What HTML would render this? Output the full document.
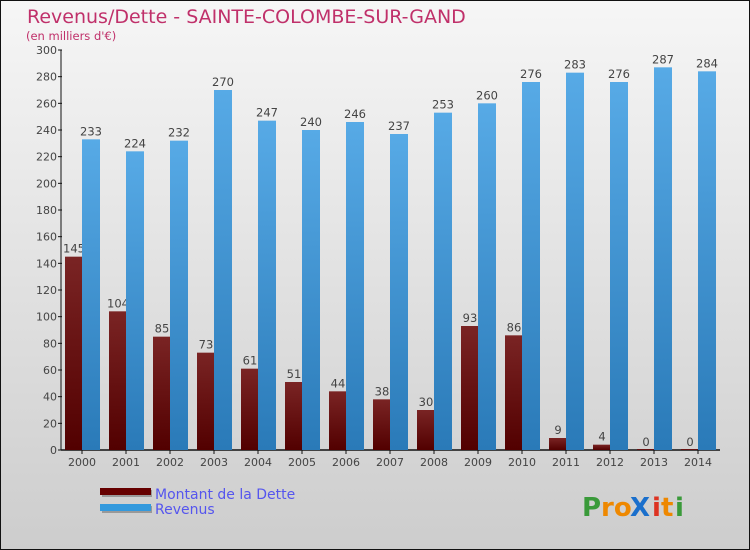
<!DOCTYPE html>
<html><head><meta charset="utf-8"><style>
body{margin:0;width:750px;height:550px;overflow:hidden}
svg{display:block;font-family:"DejaVu Sans","Liberation Sans",sans-serif}
</style></head><body>
<svg id="chart" width="750" height="550">
<defs>
<linearGradient id="bg" x1="0" y1="0" x2="0" y2="1"><stop offset="0" stop-color="#f6f6f6"/><stop offset="1" stop-color="#cdcdcd"/></linearGradient>
<linearGradient id="gd" x1="0" y1="0" x2="0" y2="1"><stop offset="0" stop-color="#7a2424"/><stop offset="1" stop-color="#520000"/></linearGradient>
<linearGradient id="gr" x1="0" y1="0" x2="0" y2="1"><stop offset="0" stop-color="#57aae6"/><stop offset="1" stop-color="#2a7ab8"/></linearGradient>
</defs>
<rect x="0.5" y="0.5" width="749" height="549" fill="url(#bg)" stroke="#111"/>
<text x="27" y="23" font-size="19" fill="#c0306a">Revenus/Dette - SAINTE-COLOMBE-SUR-GAND</text>
<text x="26" y="40" font-size="11.5" fill="#c0306a">(en milliers d'€)</text>
<g id="axes"></g><g id="bars"></g>
<g>
<rect x="102" y="490" width="50" height="7" fill="#999"/><rect x="100" y="488" width="51" height="7" fill="#660000"/>
<text x="155" y="499" font-size="14" fill="#5555ee">Montant de la Dette</text>
<rect x="102" y="506" width="50" height="7" fill="#999"/><rect x="100" y="504" width="51" height="7" fill="#3399dd"/>
<text x="155" y="514" font-size="14" fill="#5555ee">Revenus</text>
</g>
<g font-size="26" font-weight="bold">
<text x="582" y="516" fill="#3a9a3a">P</text><text x="601" y="516" fill="#ee8800">ro</text><text x="630" y="516" fill="#1a6fcc">X</text><text x="652" y="516" fill="#dd3322">i</text><text x="661" y="516" fill="#ee8800">t</text><text x="675" y="516" fill="#3a9a3a">i</text>
</g>
</svg>
<script>
const years=["2000","2001","2002","2003","2004","2005","2006","2007","2008","2009","2010","2011","2012","2013","2014"];
const debt=[145,104,85,73,61,51,44,38,30,93,86,9,4,0,0];
const revenus=[233,224,232,270,247,240,246,237,253,260,276,283,276,287,284];
const yTicks=[0,20,40,60,80,100,120,140,160,180,200,220,240,260,280,300];
const NS="http://www.w3.org/2000/svg";
const y0=450,yTop=50,yMax=300;
function y(v){return y0-(v/yMax)*(y0-yTop);}
function xc(i){return 82+44*i;}
function mk(t,a,p){const e=document.createElementNS(NS,t);for(const k in a)e.setAttribute(k,a[k]);p.appendChild(e);return e;}
const ax=document.getElementById('axes'),bg=document.getElementById('bars');
const yl=mk('line',{x1:61,y1:yTop,x2:61,y2:y0,stroke:'#111'},ax);


const xl=mk('line',{x1:61,y1:y0,x2:720,y2:y0,stroke:'#111','stroke-width':1.5},ax);


yTicks.forEach(v=>{
 mk('line',{x1:58,y1:y(v),x2:62,y2:y(v),stroke:'#111'},ax);
 const t=mk('text',{x:57,y:y(v)+4,'font-size':11,fill:'#444','text-anchor':'end'},ax);t.textContent=v;
 
 
});
years.forEach((yr,i)=>{
 const c=xc(i);
 mk('line',{x1:c,y1:y0,x2:c,y2:y0+4,stroke:'#111'},ax);
 const t=mk('text',{x:c,y:y0+16,'font-size':11,fill:'#444','text-anchor':'middle'},ax);t.textContent=yr;
 
 
 const d=mk('rect',{x:c-17,y:y(debt[i])-(debt[i]===0?1:0),width:17,height:Math.max(1,y0-y(debt[i])),fill:'url(#gd)'},bg);
 
 
 const dl=mk('text',{x:c-8,y:y(debt[i])-4,'font-size':11.5,fill:'#444','text-anchor':'middle'},bg);dl.textContent=debt[i];
 
 
 const r=mk('rect',{x:c,y:y(revenus[i]),width:18,height:y0-y(revenus[i]),fill:'url(#gr)'},bg);
 
 
 const rl=mk('text',{x:c+9,y:y(revenus[i])-4,'font-size':11.5,fill:'#444','text-anchor':'middle'},bg);rl.textContent=revenus[i];
 
 
});
</script>
</body></html>
